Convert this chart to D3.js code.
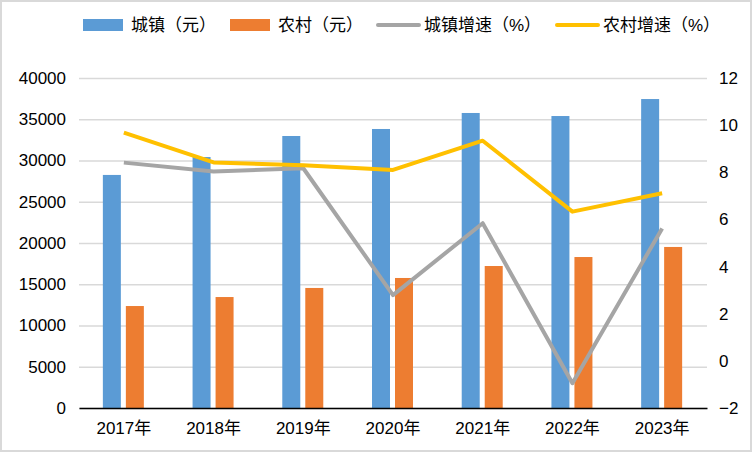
<!DOCTYPE html>
<html>
<head>
<meta charset="utf-8">
<script src="https://cdn.jsdelivr.net/npm/d3@7"></script>
<style>
  body { margin: 0; background: #fff; }
  svg text { font-family: "Liberation Sans", "Noto Sans CJK SC", sans-serif; fill: #000; }
</style>
</head>
<body>
<div id="chart"></div>
<script>
const width = 752;
const height = 452;
const margin = { top: 78, right: 45, bottom: 44, left: 79 };

const years = ["2017年", "2018年", "2019年", "2020年", "2021年", "2022年", "2023年"];
const urbanIncome = [28250, 30420, 32970, 33820, 35760, 35390, 37450];
const ruralIncome = [12360, 13450, 14550, 15760, 17210, 18300, 19520];
const urbanGrowth = [8.41, 8.03, 8.17, 2.79, 5.84, -0.95, 5.62];
const ruralGrowth = [9.68, 8.42, 8.30, 8.10, 9.34, 6.33, 7.11];
const leftTicks = [0, 5000, 10000, 15000, 20000, 25000, 30000, 35000, 40000];
const rightTicks = [-2, 0, 2, 4, 6, 8, 10, 12];

const barSeries = ["城镇（元）", "农村（元）"];
const lineSeries = ["城镇增速（%）", "农村增速（%）"];
const colors = {
  "城镇（元）": "#5b9bd5",
  "农村（元）": "#ed7d31",
  "城镇增速（%）": "#a5a5a5",
  "农村增速（%）": "#ffc000"
};

const svg = d3.select("#chart")
  .append("svg")
  .attr("width", width)
  .attr("height", height);

svg.append("rect")
  .attr("x", 1).attr("y", 1)
  .attr("width", width - 2).attr("height", height - 2)
  .attr("fill", "#fff")
  .attr("stroke", "#d9d9d9")
  .attr("stroke-width", 2);

const x = d3.scaleBand()
  .domain(years)
  .range([margin.left, width - margin.right]);

const xSub = d3.scaleBand()
  .domain(barSeries)
  .range([x.bandwidth() / 2 - 21, x.bandwidth() / 2 + 20])
  .paddingInner(5 / 23);

const yLeft = d3.scaleLinear()
  .domain([0, 40000])
  .range([height - margin.bottom, margin.top]);

const yRight = d3.scaleLinear()
  .domain([-2, 12])
  .range([height - margin.bottom, margin.top]);

// gridlines + left labels
const gLeft = svg.append("g")
  .attr("transform", `translate(${margin.left},0)`)
  .call(d3.axisLeft(yLeft)
    .tickValues(leftTicks)
    .tickSize(-(width - margin.left - margin.right))
    .tickPadding(13)
    .tickFormat(d3.format("d")));
gLeft.select(".domain").remove();
gLeft.selectAll("line")
  .attr("stroke", "#d9d9d9")
  .attr("stroke-width", 1.5);
gLeft.selectAll("text")
  .attr("font-size", 17);

const gRight = svg.append("g")
  .attr("transform", `translate(${width - margin.right},0)`)
  .call(d3.axisRight(yRight)
    .tickValues(rightTicks)
    .tickSize(0)
    .tickPadding(12));
gRight.select(".domain").remove();
gRight.selectAll("text")
  .attr("font-size", 17);

// bars
const barData = years.map((yr, i) => ({ year: yr, values: [urbanIncome[i], ruralIncome[i]] }));

const groups = svg.append("g")
  .selectAll("g")
  .data(barData)
  .enter()
  .append("g")
  .attr("transform", (d) => `translate(${x(d.year)},0)`);

groups.selectAll("rect")
  .data((d) => d.values.map((v, j) => ({ key: barSeries[j], value: v })))
  .enter()
  .append("rect")
  .attr("x", (d) => xSub(d.key))
  .attr("width", xSub.bandwidth())
  .attr("y", (d) => yLeft(d.value))
  .attr("height", (d) => yLeft(0) - yLeft(d.value))
  .attr("fill", (d) => colors[d.key]);

// bottom axis
const gBottom = svg.append("g")
  .attr("transform", `translate(0,${yLeft(0)})`)
  .call(d3.axisBottom(x).tickSize(0).tickPadding(14));
gBottom.select(".domain")
  .attr("stroke", "#000")
  .attr("stroke-width", 1.5);
gBottom.selectAll("text")
  .attr("font-size", 17);

// lines
const line = d3.line()
  .x((d, i) => x(years[i]) + x.bandwidth() / 2)
  .y((d) => yRight(d));

[[urbanGrowth, lineSeries[0]], [ruralGrowth, lineSeries[1]]].forEach(([vals, key]) => {
  svg.append("path")
    .datum(vals)
    .attr("fill", "none")
    .attr("stroke", colors[key])
    .attr("stroke-width", 4)
    .attr("stroke-linejoin", "round")
    .attr("d", line);
});

// legend
const legendItems = [
  { key: barSeries[0], type: "rect", x: 83 },
  { key: barSeries[1], type: "rect", x: 230 },
  { key: lineSeries[0], type: "line", x: 376 },
  { key: lineSeries[1], type: "line", x: 555 }
];
const legendY = 25;
const legend = svg.append("g");
legendItems.forEach((item) => {
  if (item.type === "rect") {
    legend.append("rect")
      .attr("x", item.x).attr("y", legendY - 6)
      .attr("width", 40).attr("height", 12)
      .attr("fill", colors[item.key]);
  } else {
    legend.append("line")
      .attr("x1", item.x + 2).attr("x2", item.x + 43)
      .attr("y1", legendY).attr("y2", legendY)
      .attr("stroke", colors[item.key])
      .attr("stroke-width", 4)
      .attr("stroke-linecap", "round");
  }
  legend.append("text")
    .attr("x", item.x + 48)
    .attr("y", legendY)
    .attr("dy", "0.35em")
    .attr("font-size", 17)
    .text(item.key);
});
</script>
</body>
</html>
